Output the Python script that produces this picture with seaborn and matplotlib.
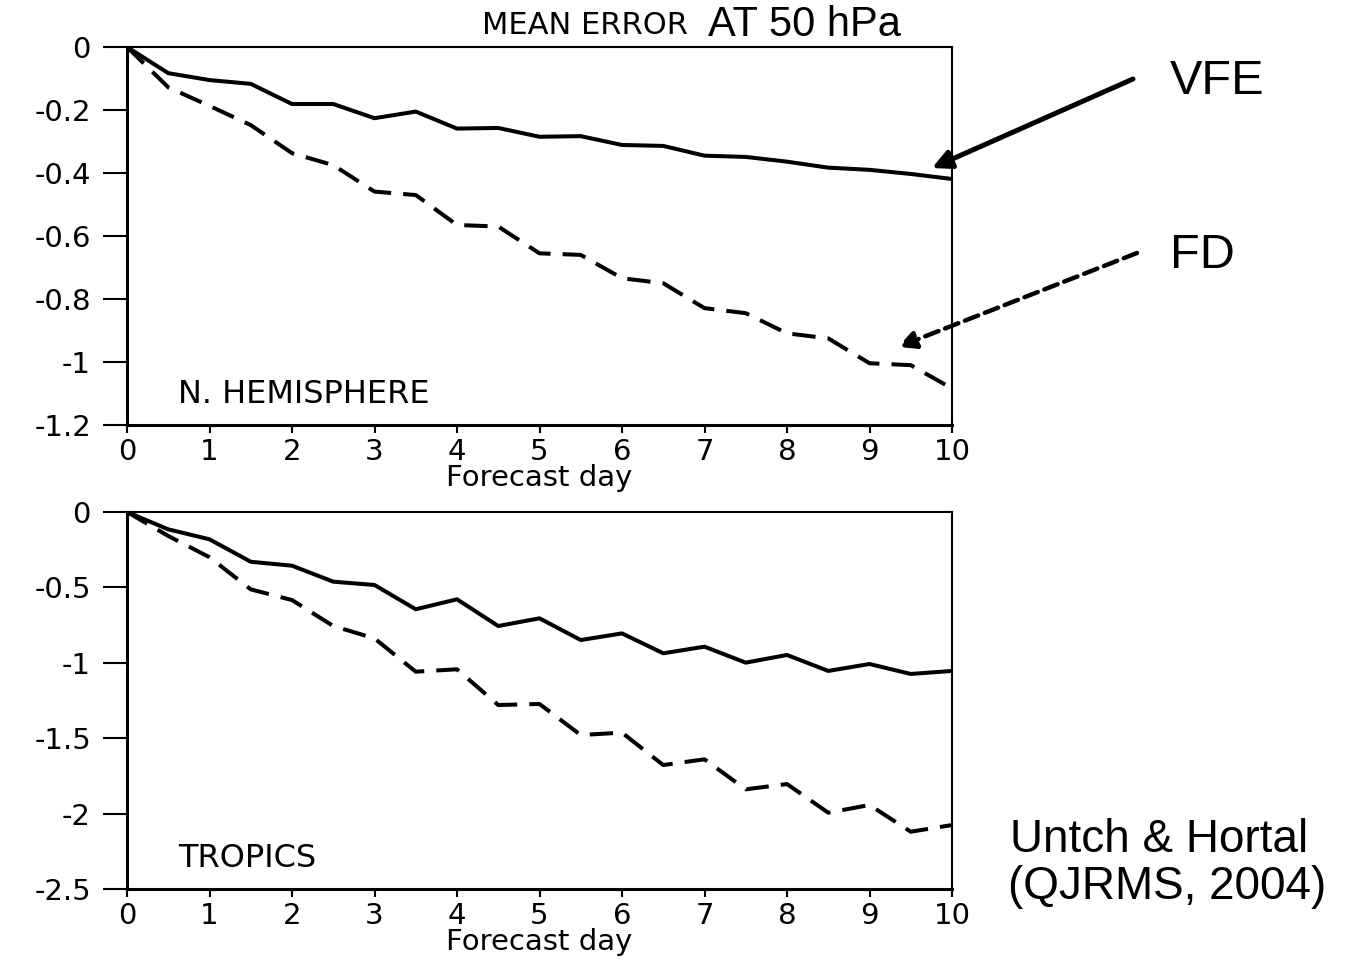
import matplotlib
matplotlib.use("Agg")
import matplotlib.pyplot as plt
import seaborn as sns
import pandas as pd
from matplotlib.ticker import FormatStrFormatter

# ---------------- data ----------------
days = [0, 0.5, 1, 1.5, 2, 2.5, 3, 3.5, 4, 4.5, 5,
        5.5, 6, 6.5, 7, 7.5, 8, 8.5, 9, 9.5, 10]
nh_vfe = [0, -0.083, -0.105, -0.117, -0.181, -0.181, -0.226, -0.205, -0.259, -0.257, -0.285,
          -0.283, -0.311, -0.314, -0.345, -0.349, -0.364, -0.383, -0.390, -0.403, -0.419]
nh_fd = [0, -0.128, -0.187, -0.248, -0.337, -0.375, -0.459, -0.470, -0.565, -0.570, -0.655,
         -0.660, -0.734, -0.750, -0.829, -0.845, -0.909, -0.925, -1.004, -1.010, -1.084]
tr_vfe = [0, -0.115, -0.181, -0.330, -0.356, -0.462, -0.484, -0.645, -0.579, -0.756, -0.705,
          -0.849, -0.805, -0.937, -0.893, -0.999, -0.948, -1.054, -1.008, -1.074, -1.054]
tr_fd = [0, -0.159, -0.300, -0.513, -0.584, -0.756, -0.838, -1.059, -1.043, -1.280, -1.273,
         -1.479, -1.463, -1.678, -1.640, -1.839, -1.804, -1.994, -1.943, -2.120, -2.076]

x_ticks = [0, 1, 2, 3, 4, 5, 6, 7, 8, 9, 10]
nh_yticks = [0, -0.2, -0.4, -0.6, -0.8, -1, -1.2]
tr_yticks = [0, -0.5, -1, -1.5, -2, -2.5]
panel_labels = ["N. HEMISPHERE", "TROPICS"]
xlabel = "Forecast day"

# ---------------- style ----------------
sns.set_style("ticks")
plt.rcParams["font.family"] = ["DejaVu Sans"]
plt.rcParams["axes.unicode_minus"] = False
plt.rcParams["text.color"] = "black"
plt.rcParams["axes.labelcolor"] = "black"
plt.rcParams["xtick.color"] = "black"
plt.rcParams["ytick.color"] = "black"

W, H = 1364, 959
fig = plt.figure(figsize=(W / 100, H / 100), dpi=100)

def frac_box(l, t, r, b):
    return [l / W, 1 - b / H, (r - l) / W, (b - t) / H]

ax1 = fig.add_axes(frac_box(127, 47, 952, 425))
ax2 = fig.add_axes(frac_box(127, 512, 952, 889))

LW = 2.9
DASH = (5.8, 3.0)

def draw(ax, vfe, fd, yticks, label):
    df = pd.DataFrame({"day": days, "VFE": vfe, "FD": fd})
    sns.lineplot(data=df, x="day", y="VFE", ax=ax, color="black", lw=LW)
    sns.lineplot(data=df, x="day", y="FD", ax=ax, color="black", lw=LW,
                 linestyle=(0, DASH))
    ax.set_xlim(0, 10)
    ax.set_ylim(min(yticks), 0)
    ax.set_xticks(x_ticks)
    ax.set_yticks(yticks)
    ax.yaxis.set_major_formatter(FormatStrFormatter("%g"))
    ax.set_ylabel("")
    ax.set_xlabel(xlabel, fontsize=21, labelpad=-1, color="black")
    ax.tick_params(axis="y", direction="out", length=17, width=1.5, pad=9,
                   labelsize=21, colors="black")
    ax.tick_params(axis="x", direction="out", length=6, width=1.5, pad=3,
                   labelsize=21, colors="black")
    for side in ["left", "bottom"]:
        ax.spines[side].set_linewidth(2.2)
    for side in ["top", "right"]:
        ax.spines[side].set_linewidth(1.5)
        ax.spines[side].set_visible(True)
    for s in ax.spines.values():
        s.set_color("black")
    ax.text(0.062, 0.08, label, transform=ax.transAxes, fontsize=23,
            va="center", ha="left", color="black")

draw(ax1, nh_vfe, nh_fd, nh_yticks, panel_labels[0])
draw(ax2, tr_vfe, tr_fd, tr_yticks, panel_labels[1])

# ---------------- title ----------------
fig.text(688 / W, 1 - 25 / H, "MEAN ERROR", fontsize=22, ha="right", va="center",
         color="black")
fig.text(708 / W, 1 - 25 / H, "AT 50 hPa", fontsize=30, ha="left", va="center",
         family=["Liberation Sans Narrow", "Liberation Sans"], color="black")

# ---------------- annotations ----------------
def px(xp, yp):
    return (xp / W, 1 - yp / H)

ax1.annotate("", xy=px(932, 168), xytext=px(1133, 79),
             xycoords="figure fraction", textcoords="figure fraction",
             annotation_clip=False,
             arrowprops=dict(arrowstyle="-|>", color="black", lw=3.6,
                             mutation_scale=28, shrinkA=0, shrinkB=0))
ax1.annotate("", xy=px(898, 347), xytext=px(1137, 253),
             xycoords="figure fraction", textcoords="figure fraction",
             annotation_clip=False,
             arrowprops=dict(arrowstyle="-|>", color="black", lw=3.2,
                             linestyle=(0, (3.2, 1.6)),
                             mutation_scale=26, shrinkA=0, shrinkB=0))

big = ["Liberation Sans", "DejaVu Sans"]
fig.text(1170 / W, 1 - 81 / H, "VFE", fontsize=35, ha="left", va="center",
         family=big, color="black")
fig.text(1170 / W, 1 - 255 / H, "FD", fontsize=35, ha="left", va="center",
         family=big, color="black")
fig.text(1010 / W, 1 - 840 / H, "Untch & Hortal", fontsize=33, ha="left", va="center",
         family=big, color="black")
fig.text(1008 / W, 1 - 887 / H, "(QJRMS, 2004)", fontsize=33, ha="left", va="center",
         family=big, color="black")

fig.savefig("out.png", dpi=100, facecolor="white")
